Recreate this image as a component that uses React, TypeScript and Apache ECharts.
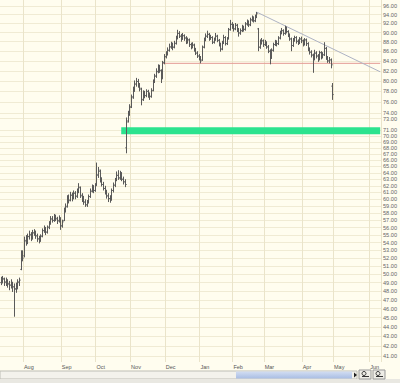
import React, { useEffect, useRef } from "react";
import * as echarts from "echarts";

// Trading calendar (Jul 2005 – Jun 2006)
const startDate = "2005-07-12";
const endDate = "2006-06-09";
const holidays = ["2005-09-05", "2005-11-24", "2005-12-26", "2006-01-02", "2006-01-16", "2006-02-20", "2006-04-14", "2006-05-29"];
const monthNames = ["Jan", "Feb", "Mar", "Apr", "May", "Jun", "Jul", "Aug", "Sep", "Oct", "Nov", "Dec"];

// OHLC values
const opens = [
  49.0, 49.2, 49.4, 49.1, 49.2, 48.8, 48.7, 48.9, 48.5, 48.3,
  48.6, 49.1, 50.6, 52.4, 52.3, 54.3, 54.0, 54.8, 55.0, 54.7,
  55.3, 55.4, 54.9, 54.5, 54.3, 54.9, 55.6, 55.8, 55.4, 56.1,
  56.7, 57.2, 57.0, 57.4, 57.2, 57.0, 57.2, 56.3, 57.0, 58.5,
  59.0, 60.1, 59.9, 60.6, 60.2, 60.9, 60.5, 61.1, 61.7, 60.6,
  60.0, 59.6, 59.2, 59.6, 60.4, 61.2, 61.8, 61.3, 62.1, 63.7,
  64.2, 62.8, 62.2, 61.6, 61.0, 60.5, 60.1, 60.0, 61.3, 62.1,
  62.9, 63.6, 63.2, 63.9, 63.0, 62.6, 68.0, 72.6, 73.9, 75.2,
  77.0, 78.3, 79.4, 79.9, 79.1, 78.4, 76.5, 77.6, 77.2, 78.0,
  77.4, 77.1, 78.2, 79.9, 81.0, 81.9, 82.9, 82.0, 80.6, 83.7,
  84.9, 85.5, 86.2, 86.9, 87.4, 86.9, 87.7, 88.8, 89.8, 89.2,
  88.7, 89.3, 88.8, 87.9, 88.4, 87.4, 86.9, 87.3, 86.2, 85.6,
  85.0, 84.6, 84.2, 86.9, 88.4, 89.2, 89.6, 88.7, 88.9, 87.9,
  88.5, 89.2, 88.3, 87.5, 86.5, 87.8, 88.9, 87.6, 88.7, 90.7,
  91.8, 91.4, 90.8, 91.6, 90.6, 89.9, 90.4, 91.2, 90.7, 91.9,
  92.4, 91.7, 92.8, 93.3, 92.6, 93.6, 90.8, 86.9, 87.9, 88.2,
  87.4, 87.8, 86.9, 86.0, 84.7, 86.2, 87.4, 88.0, 87.6, 88.8,
  89.9, 90.4, 89.8, 91.0, 90.2, 89.5, 88.6, 87.2, 88.4, 88.9,
  88.1, 87.8, 88.6, 88.2, 87.5, 88.4, 87.6, 86.4, 85.8, 85.2,
  84.4, 85.6, 85.0, 84.4, 85.7, 84.8, 85.3, 86.6, 84.6, 84.0,
  84.2, 79.0,
];
const highs = [
  49.7, 49.8, 49.6, 49.6, 49.4, 49.2, 49.4, 49.1, 48.9, 49.0,
  49.4, 49.6, 53.0, 53.0, 54.8, 55.0, 55.2, 55.6, 55.4, 55.7,
  55.8, 55.6, 55.2, 54.9, 55.1, 55.9, 56.3, 56.1, 56.3, 56.9,
  57.6, 57.6, 57.9, 57.8, 57.5, 57.7, 57.4, 57.1, 58.8, 59.4,
  60.6, 60.7, 61.1, 61.0, 61.3, 61.2, 61.6, 62.4, 61.9, 60.9,
  60.5, 60.0, 59.9, 60.7, 61.6, 62.2, 62.1, 62.4, 65.6, 64.9,
  64.5, 63.3, 62.6, 62.0, 61.4, 60.9, 60.6, 61.6, 62.5, 63.2,
  64.2, 64.4, 64.3, 64.1, 63.4, 63.0, 73.2, 74.4, 75.6, 77.4,
  78.9, 80.1, 80.6, 80.4, 79.6, 78.7, 78.2, 78.1, 78.4, 78.3,
  77.8, 78.6, 80.3, 81.4, 82.5, 83.3, 83.2, 82.3, 84.0, 85.4,
  86.0, 86.8, 87.6, 88.0, 87.8, 88.2, 89.3, 90.6, 90.3, 89.7,
  89.9, 89.6, 89.2, 88.9, 88.7, 87.8, 87.9, 87.6, 86.7, 86.0,
  85.4, 85.0, 87.2, 88.9, 89.8, 90.4, 89.9, 89.5, 89.2, 88.9,
  89.9, 89.5, 88.6, 87.8, 88.2, 89.5, 89.2, 89.0, 91.0, 92.8,
  92.3, 91.9, 92.1, 91.9, 91.0, 90.9, 91.7, 91.5, 92.3, 92.9,
  92.7, 93.3, 93.8, 93.6, 94.0, 94.6, 91.0, 88.5, 88.8, 88.5,
  88.4, 88.1, 87.3, 86.4, 86.6, 87.8, 88.4, 88.3, 89.2, 90.4,
  91.0, 90.7, 91.5, 91.3, 90.5, 89.8, 88.9, 88.8, 89.3, 89.2,
  88.5, 89.0, 89.1, 88.5, 88.8, 88.7, 87.9, 86.8, 86.2, 85.5,
  86.3, 86.0, 85.4, 86.1, 86.0, 85.8, 87.9, 86.9, 85.0, 84.8,
  84.5, 79.6,
];
const lows = [
  48.7, 48.9, 48.6, 48.6, 48.4, 48.1, 48.3, 47.9, 45.1, 47.8,
  48.2, 48.6, 50.5, 51.6, 52.1, 53.6, 53.8, 54.4, 54.2, 54.4,
  54.9, 54.5, 54.1, 53.9, 54.1, 54.7, 55.3, 55.0, 55.2, 55.8,
  56.4, 56.7, 56.8, 56.9, 56.5, 56.7, 55.7, 56.0, 56.9, 58.1,
  58.8, 59.4, 59.7, 59.7, 60.0, 60.0, 60.2, 60.9, 60.2, 59.6,
  59.2, 58.9, 58.9, 59.4, 60.2, 61.0, 60.9, 61.1, 62.0, 63.2,
  62.5, 61.9, 61.3, 60.7, 60.1, 59.6, 59.5, 59.8, 61.0, 61.8,
  62.7, 62.9, 62.9, 62.7, 62.2, 61.8, 67.1, 72.3, 73.5, 74.9,
  76.6, 77.9, 78.9, 78.7, 78.0, 75.4, 76.2, 76.7, 76.9, 76.8,
  76.4, 76.8, 78.0, 79.6, 80.6, 81.5, 81.6, 79.6, 80.4, 83.3,
  84.5, 85.1, 85.9, 86.5, 86.2, 86.6, 87.4, 88.5, 88.8, 88.0,
  88.4, 88.2, 87.5, 87.6, 86.9, 86.4, 86.6, 85.9, 85.2, 84.6,
  84.1, 83.5, 84.0, 86.6, 88.1, 88.8, 88.2, 88.4, 87.5, 87.6,
  88.2, 87.9, 87.0, 85.9, 86.2, 87.5, 87.2, 87.3, 88.5, 90.4,
  90.8, 90.2, 90.5, 90.1, 89.1, 89.5, 90.1, 90.2, 90.4, 91.5,
  91.2, 91.4, 92.4, 92.2, 92.3, 93.2, 86.0, 86.5, 87.4, 86.9,
  87.1, 86.5, 85.6, 83.3, 84.4, 85.9, 87.1, 87.0, 87.3, 88.5,
  89.6, 89.3, 89.5, 89.8, 89.0, 88.2, 86.0, 86.9, 88.0, 87.6,
  87.3, 87.5, 87.7, 87.0, 87.2, 87.1, 86.0, 85.3, 84.7, 81.6,
  84.1, 84.5, 83.8, 84.1, 84.3, 84.5, 85.0, 84.2, 83.6, 83.5,
  82.5, 76.4,
];
const closes = [
  49.2, 49.5, 49.0, 49.3, 48.9, 48.7, 49.0, 48.5, 48.2, 48.6,
  49.0, 49.3, 52.4, 52.0, 54.2, 54.0, 54.8, 55.1, 54.6, 55.3,
  55.5, 54.9, 54.5, 54.3, 54.8, 55.6, 55.9, 55.4, 56.0, 56.6,
  57.2, 57.0, 57.5, 57.3, 56.9, 57.4, 56.2, 56.8, 58.4, 58.9,
  60.2, 59.8, 60.6, 60.1, 60.9, 60.4, 61.0, 61.8, 60.5, 60.0,
  59.6, 59.2, 59.5, 60.4, 61.2, 61.8, 61.3, 62.0, 63.6, 64.4,
  62.8, 62.2, 61.6, 61.0, 60.5, 60.1, 59.9, 61.3, 62.1, 62.9,
  63.6, 63.2, 63.8, 63.0, 62.6, 62.2, 72.4, 73.8, 75.0, 76.8,
  78.2, 79.4, 79.9, 79.2, 78.6, 76.4, 77.6, 77.2, 78.0, 77.4,
  77.0, 78.1, 79.8, 80.9, 81.8, 82.9, 82.1, 80.4, 83.6, 84.8,
  85.4, 86.2, 86.9, 87.4, 86.8, 87.6, 88.7, 89.8, 89.2, 88.6,
  89.3, 88.8, 87.9, 88.4, 87.4, 86.9, 87.3, 86.2, 85.6, 85.0,
  84.6, 84.0, 86.8, 88.4, 89.2, 89.6, 88.7, 88.9, 87.9, 88.5,
  89.2, 88.3, 87.6, 86.4, 87.8, 88.9, 87.6, 88.6, 90.6, 91.8,
  91.4, 90.8, 91.6, 90.6, 89.9, 90.4, 91.2, 90.7, 91.9, 92.4,
  91.7, 92.8, 93.3, 92.6, 93.6, 94.2, 86.8, 87.9, 88.2, 87.4,
  87.8, 86.9, 86.0, 84.6, 86.2, 87.4, 88.0, 87.6, 88.8, 89.9,
  90.4, 89.8, 91.0, 90.2, 89.5, 88.6, 87.2, 88.4, 88.9, 88.1,
  87.8, 88.6, 88.2, 87.5, 88.4, 87.6, 86.4, 85.8, 85.2, 84.3,
  85.6, 85.0, 84.4, 85.7, 84.8, 85.2, 86.6, 84.6, 84.0, 84.2,
  83.2, 77.4,
];

// Price-axis tick labels
const yTickLabels = [96, 94, 92, 90, 88, 86, 84, 82, 80, 78, 76, 74, 73, 71, 70, 69, 68, 67, 66, 65, 64, 63, 62, 61, 60, 59, 58, 57, 56, 55, 54, 53, 52, 51, 50, 49, 48, 47, 46, 45, 44, 43, 42, 41];
const yRange = [40.4, 97.4];

// Annotations
const supportBand = { fromIndex: 73, top: 71.5, bottom: 70.3 };
const redLine = { fromIndex: 98, price: 83.5 };
const trendLine = { fromIndex: 155, fromPrice: 94.6, toPrice: 81.8 };

function buildCategories(): string[] {
  const out: string[] = [];
  const hol = new Set(holidays);
  const d = new Date(startDate + "T00:00:00Z");
  const end = new Date(endDate + "T00:00:00Z");
  while (d.getTime() <= end.getTime()) {
    const wd = d.getUTCDay();
    const s = d.toISOString().slice(0, 10);
    if (wd !== 0 && wd !== 6 && !hol.has(s)) out.push(s);
    d.setUTCDate(d.getUTCDate() + 1);
  }
  return out;
}

export default function App() {
  const ref = useRef<HTMLDivElement>(null);
  useEffect(() => {
    document.body.style.margin = "0";
    if (!ref.current) return;
    const chart = echarts.init(ref.current, undefined, { renderer: "svg" });
    const cats = buildCategories();
    const last = cats[cats.length - 1];
    const isMonthStart = (i: number) => i > 0 && cats[i].slice(5, 7) !== cats[i - 1].slice(5, 7);
    const data = opens.map((o, i) => [i, Math.log(o), Math.log(highs[i]), Math.log(lows[i]), Math.log(closes[i])]);
    const barStyle = { stroke: "#5a5a5a", lineWidth: 1 };

    chart.setOption({
      animation: false,
      backgroundColor: "#FFFDEF",
      grid: { left: 0, right: 16, top: 0, bottom: 21 },
      xAxis: {
        type: "category",
        data: cats,
        boundaryGap: true,
        axisLine: { show: false },
        axisTick: { show: false },
        axisLabel: {
          interval: (i: number) => isMonthStart(i),
          formatter: (v: string) => monthNames[parseInt(v.slice(5, 7), 10) - 1],
          align: "left",
          fontSize: 5.5,
          margin: 2,
          color: "#555",
          fontFamily: "Liberation Sans",
        },
        splitLine: {
          show: true,
          interval: (i: number) => isMonthStart(i),
          lineStyle: { color: "#EAE4CA", width: 1 },
        },
      },
      yAxis: {
        type: "value",
        position: "right",
        min: Math.log(yRange[0]),
        max: Math.log(yRange[1]),
        axisLine: { show: false },
        axisTick: { show: false, customValues: yTickLabels.map((v) => Math.log(v)) },
        axisLabel: {
          customValues: yTickLabels.map((v) => Math.log(v)),
          formatter: (v: number) => Math.exp(v).toFixed(2),
          fontSize: 5.6,
          margin: 2,
          color: "#666",
          fontFamily: "Liberation Sans",
        },
        splitLine: { show: true, lineStyle: { color: "#F0EBD4", width: 1 } },
      },
      series: [
        {
          type: "custom",
          data,
          encode: { x: 0, y: [1, 2, 3, 4] },
          clip: true,
          z: 3,
          renderItem: (params: any, api: any) => {
            const x = api.value(0);
            const o = api.coord([x, api.value(1)]);
            const h = api.coord([x, api.value(2)]);
            const l = api.coord([x, api.value(3)]);
            const c = api.coord([x, api.value(4)]);
            const cx = Math.round(o[0]) + 0.5;
            return {
              type: "group",
              children: [
                { type: "line", shape: { x1: cx, y1: h[1], x2: cx, y2: l[1] }, style: barStyle },
                { type: "line", shape: { x1: cx - 1.2, y1: o[1], x2: cx, y2: o[1] }, style: barStyle },
                { type: "line", shape: { x1: cx, y1: c[1], x2: cx + 1.2, y2: c[1] }, style: barStyle },
              ],
            };
          },
          markArea: {
            silent: true,
            itemStyle: { color: "#2BE38E", opacity: 1 },
            data: [[
              { xAxis: cats[supportBand.fromIndex], yAxis: Math.log(supportBand.top) },
              { xAxis: last, yAxis: Math.log(supportBand.bottom) },
            ]],
          },
        },
        {
          name: "level",
          type: "line",
          z: 2,
          silent: true,
          showSymbol: false,
          symbol: "none",
          color: "#E49A94",
          lineStyle: { color: "#E49A94", width: 1 },
          data: [
            [cats[redLine.fromIndex], Math.log(redLine.price)],
            [last, Math.log(redLine.price)],
          ],
        },
        {
          name: "trend",
          type: "line",
          z: 2,
          silent: true,
          showSymbol: false,
          symbol: "none",
          color: "#AEB3C4",
          lineStyle: { color: "#AEB3C4", width: 1 },
          data: [
            [cats[trendLine.fromIndex], Math.log(trendLine.fromPrice)],
            [last, Math.log(trendLine.toPrice)],
          ],
        },
      ],
      graphic: [
        { type: "rect", shape: { x: 0, y: 371, width: 357, height: 8 }, style: { fill: "#F3F2EC", stroke: "#BDBDB5", lineWidth: 1 } },
        {
          type: "rect",
          shape: { x: 236, y: 371.5, width: 116, height: 7 },
          style: {
            fill: new echarts.graphic.LinearGradient(0, 0, 0, 1, [
              { offset: 0, color: "#D2DDF2" },
              { offset: 1, color: "#A9BDE3" },
            ]),
          },
        },
        { type: "rect", shape: { x: 0, y: 379, width: 400, height: 4 }, style: { fill: "#E9E8E2" } },
        { type: "polygon", shape: { points: [[354, 372.5], [357, 375], [354, 377.5]] }, style: { fill: "#222" } },
        { type: "rect", shape: { x: 359, y: 370, width: 12, height: 9 }, style: { fill: "#EEEDE6", stroke: "#999", lineWidth: 1 } },
        { type: "rect", shape: { x: 373, y: 370, width: 12, height: 9 }, style: { fill: "#EEEDE6", stroke: "#999", lineWidth: 1 } },
        { type: "circle", shape: { cx: 364, cy: 373.5, r: 2 }, style: { fill: "none", stroke: "#333", lineWidth: 1 } },
        { type: "line", shape: { x1: 362, y1: 376.5, x2: 369, y2: 376.5 }, style: { stroke: "#333", lineWidth: 1 } },
        { type: "circle", shape: { cx: 378, cy: 373.5, r: 2 }, style: { fill: "none", stroke: "#333", lineWidth: 1 } },
        { type: "line", shape: { x1: 376, y1: 376.5, x2: 383, y2: 376.5 }, style: { stroke: "#333", lineWidth: 1 } },
      ],
    });
    return () => chart.dispose();
  }, []);
  return <div ref={ref} style={{ width: 400, height: 383, background: "#FFFDEF" }} />;
}
